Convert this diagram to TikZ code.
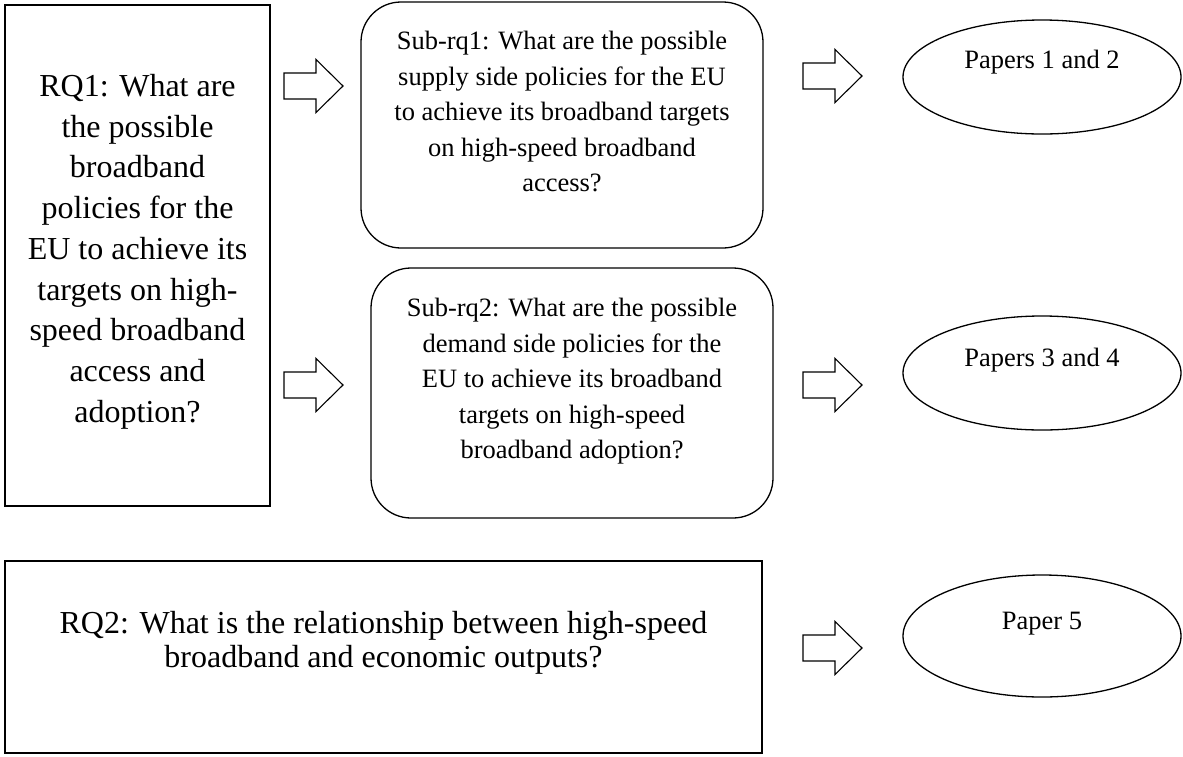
\documentclass[tikz,border=0pt]{standalone}
\usepackage{fontspec}
\setmainfont{Liberation Serif}
\usetikzlibrary{shapes.geometric}
\tikzset{
  box/.style={draw, line width=1.3pt, inner sep=0pt, outer sep=0pt},
  rbox/.style={box, rounded corners=40pt},
  oval/.style={draw, line width=1.3pt, ellipse, inner sep=0pt, outer sep=0pt},
  bigtxt/.style={align=center, font=\fontsize{32}{40.75}\selectfont, anchor=north, inner sep=0pt},
  rqtxt/.style={align=center, font=\fontsize{32}{34}\selectfont, anchor=north, inner sep=0pt},
  subtxt/.style={align=center, font=\fontsize{26.5}{35.5}\selectfont, anchor=north, inner sep=0pt},
  ptxt/.style={font=\fontsize{26.5}{30}\selectfont, inner sep=0pt},
  blockarrow/.pic={\draw[line width=1.1pt, line join=miter] (0,-13)--(32,-13)--(32,-26.5)--(59,0)--(32,26.5)--(32,13)--(0,13)--cycle;}
}
\begin{document}
\begin{tikzpicture}[x=1pt,y=-1pt]
\useasboundingbox (0,0) rectangle (1183,756);
% boxes
\node[box, minimum width=265pt, minimum height=501pt] (rq1) at (137.5,255.5) {};
\node[rbox, minimum width=402pt, minimum height=246pt] (sub1) at (562,125) {};
\node[rbox, minimum width=402pt, minimum height=250pt] (sub2) at (572,393) {};
\node[box, minimum width=757pt, minimum height=192pt] (rq2) at (383.5,657) {};
\node[oval, minimum width=278pt, minimum height=114pt] (p12) at (1042,77) {};
\node[oval, minimum width=278pt, minimum height=114pt] (p34) at (1042,373) {};
\node[oval, minimum width=278pt, minimum height=122pt] (p5) at (1042,636) {};
% texts
\node[bigtxt] (rq1t) at (137.5,74) {RQ1: What are\\the possible\\broadband\\policies for the\\EU to achieve its\\targets on high-\\speed broadband\\access and\\adoption?};
\node[subtxt] (sub1t) at (562,31) {Sub-rq1: What are the possible\\supply side policies for the EU\\to achieve its broadband targets\\on high-speed broadband\\access?};
\node[subtxt] (sub2t) at (572,298) {Sub-rq2: What are the possible\\demand side policies for the\\EU to achieve its broadband\\targets on high-speed\\broadband adoption?};
\node[rqtxt] (rq2t) at (383.5,611) {RQ2: What is the relationship between high-speed\\broadband and economic outputs?};
\node[ptxt] (p12t) at (1042,62) {Papers 1 and 2};
\node[ptxt] (p34t) at (1042,360) {Papers 3 and 4};
\node[ptxt] (p5t) at (1042,624) {Paper 5};
% block arrows
\pic at (284,86) {blockarrow};
\pic at (284,385) {blockarrow};
\pic at (803,76) {blockarrow};
\pic at (803,385) {blockarrow};
\pic at (803,648) {blockarrow};
\end{tikzpicture}
\end{document}
